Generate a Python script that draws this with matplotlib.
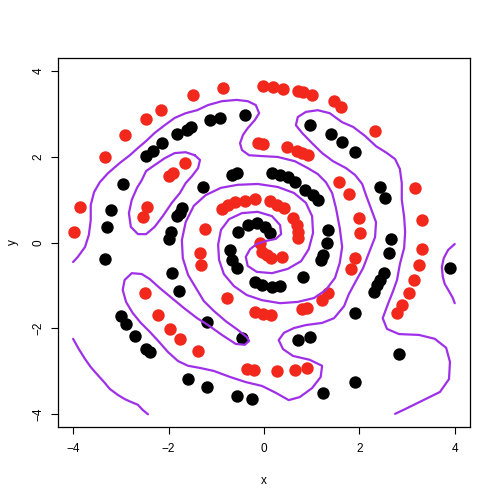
import matplotlib
matplotlib.use("Agg")
import matplotlib.pyplot as plt

plt.rcParams['font.family'] = ['Liberation Sans', 'DejaVu Sans']

# ---- class 1 (black) points ----
black_x = [-0.545, -0.335, -0.147, 0.021, 0.126, -0.713, -0.671, -0.566, -0.189, -0.042,
           0.168, 0.335, 0.818, 1.195, 1.237, 1.321, 1.342, 1.132, 1.027, 0.86,
           0.65, 0.503, 0.335, 0.168, -0.566, -0.671, -1.279, -1.719, -1.761, -1.824,
           -1.95, -1.99, -1.93, -1.78, -1.195, -0.461, 0.713, 0.964, 1.908, 2.306,
           2.369, 2.432, 2.516, 2.62, 2.66, 2.537, 2.432, 1.908, 1.635, 1.405,
           0.964, -0.398, -0.922, -1.132, -1.53, -1.614, -1.824, -2.138, -2.327, -2.474,
           -2.956, -3.208, -3.29, -3.333, -2.998, -2.893, -2.704, -2.474, -2.39, -1.593,
           -1.195, -0.566, -0.252, 1.237, 1.908, 2.83, 3.90]
black_y = [0.25, 0.41, 0.45, 0.37, 0.23, -0.17, -0.40, -0.59, -0.92, -0.99,
           -1.03, -1.01, -0.80, -0.40, -0.29, -0.01, 0.30, 1.00, 1.11, 1.23,
           1.42, 1.54, 1.58, 1.63, 1.63, 1.58, 1.30, 0.81, 0.69, 0.62,
           0.25, 0.09, -0.71, -1.13, -1.85, -2.22, -2.27, -2.20, -1.64, -1.15,
           -0.98, -0.87, -0.71, -0.24, 0.09, 1.04, 1.30, 2.11, 2.35, 2.54,
           2.74, 2.98, 2.91, 2.86, 2.70, 2.63, 2.53, 2.32, 2.14, 2.02,
           1.37, 0.76, 0.37, -0.38, -1.71, -1.89, -2.17, -2.48, -2.55, -3.18,
           -3.37, -3.57, -3.64, -3.50, -3.25, -2.59, -0.59]

# ---- class 2 (red) points ----
red_x = [-0.084, -0.042, 0.063, 0.147, 0.377, 0.713, 0.713, 0.692, 0.608, 0.419,
         0.273, 0.126, -0.189, -0.398, -0.608, -0.755, -0.88, -1.237, -1.342, -1.32,
         -0.776, -0.189, -0.021, 0.147, 0.797, 0.90, 1.216, 1.342, 1.824, 1.908,
         2.013, 1.99, 1.78, 1.572, 0.922, 0.797, 0.692, 0.482, -0.021, -0.126,
         -1.656, -1.908, -1.99, -2.453, -2.537, -2.495, -2.222, -1.97, -1.761, -1.384,
         -0.356, -0.21, 0.273, 0.65, 0.90, 2.788, 2.893, 3.04, 3.145, 3.25,
         3.31, 3.31, 3.166, 2.327, 1.614, 1.468, 1.006, 0.818, 0.713, 0.398,
         0.189, -0.021, -0.86, -1.488, -2.159, -2.474, -2.914, -3.333, -3.857, -3.983]
red_y = [0.0, -0.22, -0.29, -0.36, -0.33, 0.11, 0.25, 0.41, 0.58, 0.81,
         0.88, 0.97, 1.02, 0.97, 0.95, 0.88, 0.79, 0.32, -0.24, -0.52,
         -1.29, -1.62, -1.66, -1.68, -1.55, -1.52, -1.34, -1.17, -0.61, -0.36,
         0.23, 0.58, 1.14, 1.42, 2.04, 2.09, 2.14, 2.23, 2.30, 2.32,
         1.86, 1.63, 1.56, 0.83, 0.60, -1.17, -1.68, -2.01, -2.24, -2.52,
         -2.95, -2.97, -2.99, -2.97, -2.92, -1.64, -1.45, -1.17, -0.87, -0.52,
         -0.15, 0.53, 1.28, 2.60, 3.16, 3.30, 3.44, 3.51, 3.54, 3.58,
         3.63, 3.65, 3.61, 3.44, 3.09, 2.88, 2.51, 2.00, 0.83, 0.25]

# ---- decision boundary (contour level 0), traced polylines ----
main_x = [-4.00, -3.90, -3.75, -3.67, -3.63, -3.63, -3.56, -3.44, -3.27, -3.02,
          -2.81, -2.64, -2.47, -2.29, -2.08, -1.87, -1.64, -1.40, -1.17, -0.88,
          -0.57, -0.34, -0.17, -0.10, -0.19, -0.34, -0.44, -0.50, -0.46, -0.31,
          -0.04, 0.29, 0.65, 0.92, 1.13, 1.30, 1.43, 1.51, 1.59, 1.64,
          1.59, 1.49, 1.30, 1.05, 0.71, 0.34, -0.04, -0.36, -0.63, -0.84,
          -0.94, -0.96, -0.90, -0.73, -0.46, -0.13, 0.17, 0.34, 0.36, 0.25,
          0.04, -0.15, -0.29, -0.38, -0.34, -0.15, 0.17, 0.50, 0.78, 0.94,
          1.03, 1.01, 0.88, 0.63, 0.29, -0.13, -0.55, -0.90, -1.22, -1.47,
          -1.64, -1.72, -1.70, -1.59, -1.40, -1.26, -1.05, -0.80, -0.55, -0.36,
          -0.31, -0.40, -0.59, -0.88, -1.17, -1.40, -1.68, -1.93, -2.18, -2.39,
          -2.56, -2.77, -2.92, -2.96, -2.89, -2.75, -2.58, -2.39, -2.20, -2.01,
          -1.80, -1.59, -1.34, -1.05, -0.71, -0.38, -0.04, 0.25, 0.52, 0.75,
          1.01, 1.19, 1.22, 0.96, 0.61, 0.40, 0.31, 0.42, 0.63, 0.88,
          1.22, 1.47, 1.68, 1.78, 1.93, 2.08, 2.20, 2.33, 2.35, 2.24,
          2.14, 2.06, 1.91, 1.72, 1.45, 1.22, 1.01, 0.80, 0.67, 0.71,
          0.88, 1.13, 1.38, 1.64, 1.87, 2.12, 2.35, 2.58, 2.75, 2.85,
          2.89, 2.89, 2.94, 2.96, 2.94, 2.85, 2.79, 2.70, 2.60, 2.49,
          2.58, 2.83, 3.25, 3.58, 3.82, 3.90, 3.88, 3.69, 3.27, 2.96, 2.75]
main_y = [-0.45, -0.33, -0.10, 0.18, 0.53, 0.88, 1.18, 1.41, 1.62, 1.86,
          2.04, 2.21, 2.37, 2.56, 2.74, 2.91, 3.02, 3.09, 3.21, 3.30,
          3.33, 3.30, 3.21, 3.02, 2.86, 2.67, 2.51, 2.32, 2.16, 2.04,
          2.02, 2.00, 1.90, 1.74, 1.60, 1.41, 1.16, 0.81, 0.34, -0.10,
          -0.47, -0.82, -1.10, -1.29, -1.38, -1.41, -1.34, -1.22, -1.01, -0.73,
          -0.40, -0.05, 0.30, 0.55, 0.69, 0.72, 0.62, 0.41, 0.20, 0.09,
          0.04, -0.03, -0.15, -0.33, -0.54, -0.68, -0.71, -0.61, -0.43, -0.15,
          0.23, 0.62, 0.93, 1.16, 1.30, 1.37, 1.35, 1.28, 1.11, 0.86,
          0.48, 0.06, -0.36, -0.75, -1.10, -1.36, -1.59, -1.83, -2.03, -2.20,
          -2.29, -2.38, -2.36, -2.15, -1.92, -1.76, -1.52, -1.29, -1.06, -0.85,
          -0.73, -0.71, -0.87, -1.10, -1.38, -1.64, -1.87, -2.08, -2.31, -2.55,
          -2.76, -2.87, -2.92, -2.99, -3.13, -3.25, -3.34, -3.50, -3.67, -3.60,
          -3.39, -3.13, -2.87, -2.73, -2.64, -2.48, -2.27, -2.10, -1.99, -1.92,
          -1.87, -1.76, -1.48, -1.20, -0.89, -0.59, -0.24, 0.13, 0.48, 0.81,
          1.11, 1.37, 1.58, 1.74, 1.90, 2.09, 2.32, 2.56, 2.74, 2.93,
          3.05, 3.09, 3.02, 2.81, 2.70, 2.49, 2.25, 2.09, 1.95, 1.72,
          1.39, 1.00, 0.60, 0.25, -0.12, -0.50, -0.87, -1.15, -1.43, -1.76,
          -2.01, -2.13, -2.15, -2.24, -2.45, -2.78, -3.18, -3.48, -3.71, -3.88, -3.99]

loop_x = [-1.45, -1.34, -1.38, -1.51, -1.64, -1.76, -1.93, -2.12, -2.29, -2.47,
          -2.64, -2.79, -2.83, -2.77, -2.66, -2.56, -2.47, -2.29, -2.08, -1.87,
          -1.64, -1.45]
loop_y = [2.04, 1.93, 1.74, 1.55, 1.39, 1.16, 0.93, 0.62, 0.37, 0.20,
          0.20, 0.37, 0.69, 1.00, 1.28, 1.46, 1.67, 1.81, 1.97, 2.09,
          2.11, 2.04]

corner_x = [-4.00, -3.88, -3.75, -3.63, -3.48, -3.35, -3.23, -3.06, -2.91, -2.77,
            -2.64, -2.54, -2.43]
corner_y = [-2.24, -2.48, -2.71, -2.90, -3.09, -3.25, -3.41, -3.55, -3.65, -3.72,
            -3.78, -3.90, -4.00]

edge_x = [4.00, 3.86, 3.77, 3.73, 3.75, 3.79, 3.88, 3.96, 4.00]
edge_y = [-0.03, -0.17, -0.36, -0.57, -0.80, -0.96, -1.13, -1.29, -1.41]

fig = plt.figure(figsize=(5, 5), dpi=100)
ax = fig.add_axes([0.1166, 0.1466, 0.8234, 0.7368])

ax.scatter(black_x, black_y, s=80, c='black', linewidths=0, zorder=2)
ax.scatter(red_x, red_y, s=80, c='#f2281c', linewidths=0, zorder=2)

line_kw = dict(color='#a030e8', lw=1.6, zorder=3, solid_capstyle='round')
ax.plot(main_x, main_y, **line_kw)
ax.plot(loop_x, loop_y, **line_kw)
ax.plot(corner_x, corner_y, **line_kw)
ax.plot(edge_x, edge_y, **line_kw)

ax.set_xlim(-4.31, 4.32)
ax.set_ylim(-4.29, 4.30)
ax.set_xticks([-4, -2, 0, 2, 4])
ax.set_yticks([-4, -2, 0, 2, 4])
ax.tick_params(direction='out', length=5, width=0.8, labelsize=8.5, pad=7)
ax.tick_params(axis='y', pad=5)
for lab in ax.get_yticklabels():
    lab.set_rotation(90)
    lab.set_va('center')
for s in ax.spines.values():
    s.set_linewidth(0.9)
ax.set_xlabel('x', fontsize=8.5, labelpad=14)
ax.set_ylabel('y', fontsize=8.5, labelpad=10)

fig.savefig('out.png', dpi=100)
